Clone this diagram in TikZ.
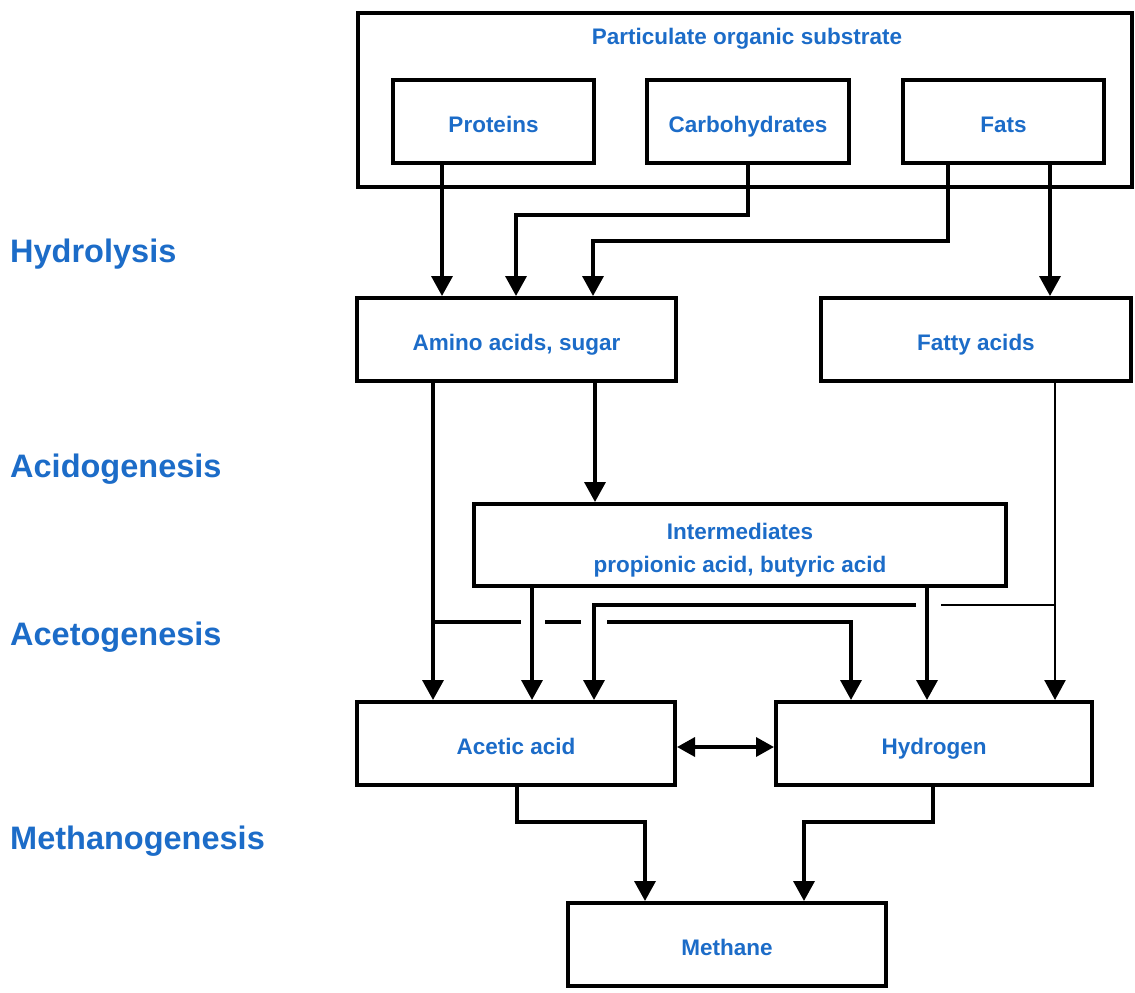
\documentclass[tikz,border=0pt]{standalone}
\usepackage{fontspec}
\setmainfont{Liberation Sans}
\usetikzlibrary{arrows.meta}
\definecolor{txtblue}{RGB}{28,108,200}
\begin{document}
\begin{tikzpicture}[x=1pt,y=-1pt,
  box/.style={draw=black,line width=4pt,rectangle,inner sep=0pt,minimum height=83pt,
    text=txtblue,font=\fontsize{22.5}{28}\selectfont\bfseries,align=center,text height=24pt,text depth=2pt},
  stage/.style={anchor=west,text=txtblue,font=\fontsize{32.5}{36}\selectfont\bfseries,inner sep=0pt},
  conn/.style={line width=3.5pt},
  arr/.style={conn,-{Triangle[length=20pt,width=21pt]}},
  darr/.style={conn,{Triangle[length=18pt,width=19pt]}-{Triangle[length=18pt,width=19pt]}}]
\useasboundingbox (0,0) rectangle (1135,993);
% boxes
\node[box,minimum width=774pt,minimum height=174pt,text height=,text depth=] (outer) at (744.5,100) {};
\node[text=txtblue,font=\fontsize{22.5}{28}\selectfont\bfseries,inner sep=0pt] (ptitle) at (747,39) {Particulate organic substrate};
\node[box,minimum width=201pt] (proteins) at (493.5,121.5) {Proteins};
\node[box,minimum width=202pt] (carbo) at (748,121.5) {Carbohydrates};
\node[box,minimum width=201pt] (fats) at (1003.5,121.5) {Fats};
\node[box,minimum width=319pt] (amino) at (516.5,339.5) {Amino acids, sugar};
\node[box,minimum width=310pt] (fatty) at (976,339.5) {Fatty acids};
\node[box,minimum width=532pt,minimum height=82pt,text height=,text depth=] (inter) at (740,545) {\raisebox{-5pt}[\height][\depth]{\parbox{400pt}{\centering Intermediates\\[5pt]propionic acid, butyric acid}}};
\node[box,minimum width=318pt] (acetic) at (516,743.5) {Acetic acid};
\node[box,minimum width=316pt] (hydrogen) at (934,743.5) {Hydrogen};
\node[box,minimum width=318pt] (methane) at (727,944.5) {Methane};
% stage labels
\node[stage] (hydro) at (10,254) {Hydrolysis};
\node[stage] (acido) at (10,469) {Acidogenesis};
\node[stage] (aceto) at (10,637) {Acetogenesis};
\node[stage] (metha) at (10,841) {Methanogenesis};
% hydrolysis
\draw[arr] (442,0 |- proteins.south) -- (442,0 |- amino.north);
\draw[arr] (carbo.south) -- (carbo.south |- 0,215) -- (516,215) -- (516,0 |- amino.north);
\draw[arr] (948,0 |- fats.south) -- (948,241) -- (593,241) -- (593,0 |- amino.north);
\draw[arr] (1050,0 |- fats.south) -- (1050,0 |- fatty.north);
% acidogenesis
\draw[arr] (595,0 |- amino.south) -- (595,0 |- inter.north);
\draw[arr] (433,0 |- amino.south) -- (433,0 |- acetic.north);
\draw[arr] (532,0 |- inter.south) -- (532,0 |- acetic.north);
\draw[arr] (927,0 |- inter.south) -- (927,0 |- hydrogen.north);
\draw[arr,line width=2.5pt] (1055,0 |- fatty.south) -- (1055,0 |- hydrogen.north);
% acetogenesis branches with line jumps
\coordinate (j1) at (433,622);
\draw[conn] (j1) -- (521,622);
\draw[conn] (545,622) -- (581,622);
\draw[arr] (607,622) -- (851,622) -- (851,0 |- hydrogen.north);
\coordinate (j2) at (1055,605);
\draw[conn,line width=2.5pt] (j2) -- (941,605);
\draw[arr] (916,605) -- (594,605) -- (594,0 |- acetic.north);
% acetic <-> hydrogen
\draw[darr] (acetic.east |- 0,747) -- (hydrogen.west |- 0,747);
% methanogenesis
\draw[arr] (517,0 |- acetic.south) -- (517,822) -- (645,822) -- (645,0 |- methane.north);
\draw[arr] (933,0 |- hydrogen.south) -- (933,822) -- (804,822) -- (804,0 |- methane.north);
\end{tikzpicture}
\end{document}
